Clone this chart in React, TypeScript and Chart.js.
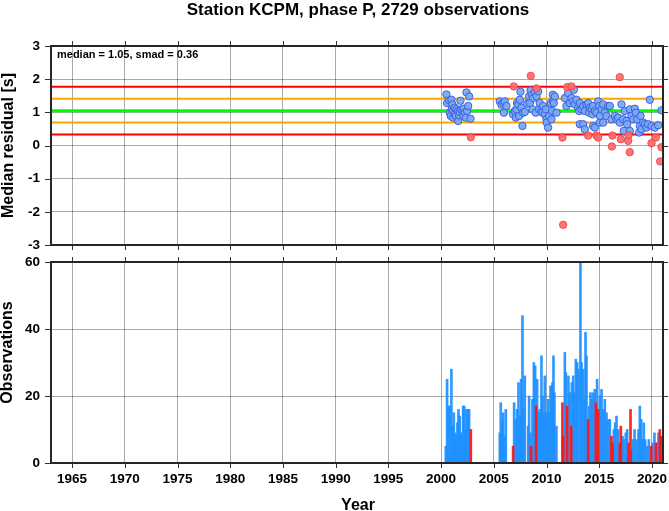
import React, { useEffect, useRef } from "react";
import { Chart, registerables } from "chart.js";

Chart.register(...registerables);

// ---------- text / constants ----------
const titleText = "Station KCPM, phase P, 2729 observations";
const topYTitle = "Median residual [s]";
const bottomYTitle = "Observations";
const xTitle = "Year";
const medianValue = 1.05;
const smadValue = 0.36;

const yearTicks = [1965, 1970, 1975, 1980, 1985, 1990, 1995, 2000, 2005, 2010, 2015, 2020];
const residualTicks = [-3, -2, -1, 0, 1, 2, 3];
const countTicks = [0, 20, 40, 60];
const X_MIN = 1963;
const X_MAX = 2021.05;

// ---------- residual points (top panel) ----------
const blueResYears = [
  2000.51, 2000.57, 2000.76, 2000.83, 2000.92, 2000.98, 2001.02, 2001.08, 2001.14, 2001.14,
  2001.3, 2001.3, 2001.4, 2001.46, 2001.62, 2001.62, 2001.71, 2001.77, 2001.84, 2001.93,
  2002.03, 2002.09, 2002.15, 2002.25, 2002.34, 2002.41, 2002.47, 2002.57, 2002.66, 2002.79,
  2005.57, 2005.73, 2005.89, 2005.95, 2006.04, 2006.2, 2006.83, 2006.99, 2007.09, 2007.15,
  2007.21, 2007.31, 2007.4, 2007.47, 2007.53, 2007.62, 2007.72, 2007.78, 2007.94, 2008.16,
  2008.35, 2008.42, 2008.48, 2008.61, 2008.67, 2008.73, 2008.89, 2008.98, 2009.05, 2009.21,
  2009.3, 2009.36, 2009.52, 2009.62, 2009.68, 2009.84, 2009.93, 2010.0, 2010.02, 2010.15,
  2010.25, 2010.41, 2010.47, 2010.53, 2010.6, 2010.63, 2010.69, 2010.79, 2010.95,
  2011.74, 2011.89, 2012.05, 2012.21, 2012.37, 2012.53, 2012.59, 2012.69, 2012.84, 2013.0,
  2013.1, 2013.16, 2013.16, 2013.32, 2013.48, 2013.48, 2013.63, 2013.63, 2013.79, 2013.95,
  2014.04, 2014.11, 2014.27, 2014.36, 2014.42, 2014.42, 2014.58, 2014.58, 2014.74, 2014.9,
  2014.99, 2015.06, 2015.06, 2015.22, 2015.37, 2015.37, 2015.53, 2015.69, 2015.85, 2016.01,
  2016.16, 2016.48, 2016.64, 2016.8, 2016.95, 2017.11, 2017.27, 2017.33, 2017.43, 2017.59,
  2017.65, 2017.9, 2017.9, 2018.06, 2018.22, 2018.38, 2018.47, 2018.6, 2018.79, 2018.85,
  2018.92, 2019.01, 2019.17, 2019.33, 2019.48, 2019.64, 2019.8, 2019.96, 2020.27, 2020.59,
  2020.91,
];
const blueResValues = [
  1.54, 1.28, 1.36, 0.99, 0.89, 1.38, 1.11, 1.24, 1.04, 0.84,
  0.94, 1.14, 0.89, 1.09, 1.04, 0.74, 0.91, 1.01, 1.35, 1.09,
  1.04, 0.89, 1.11, 0.99, 0.84, 1.6, 1.04, 1.19, 1.48, 0.81,
  1.33, 1.23, 1.28, 0.99, 1.33, 1.19, 0.94, 1.04, 0.84, 1.09,
  1.28, 1.23, 0.89, 1.38, 1.62, 1.14, 0.59, 0.99, 1.01, 1.26,
  1.48, 1.28, 1.66, 1.53, 1.09, 1.43, 1.6, 0.99, 1.48, 1.63,
  1.09, 1.28, 1.04, 0.99, 1.19, 0.94, 1.09, 0.79, 0.69, 0.54,
  0.89, 1.28, 0.79, 1.04, 1.53, 1.33, 1.28, 1.48, 0.99,
  1.43, 1.19, 1.58, 1.28, 1.43, 1.33, 1.68, 1.24, 1.38, 1.14,
  1.04, 1.28, 0.64, 1.09, 1.19, 0.64, 1.04, 0.49, 1.24, 1.28,
  0.99, 1.14, 1.09, 0.94, 1.19, 0.59, 1.04, 0.54, 0.99, 1.33,
  1.19, 0.89, 0.69, 1.09, 1.24, 0.69, 0.99, 0.89, 1.19, 1.19,
  0.79, 0.89, 0.79, 0.84, 0.69, 1.24, 0.79, 0.44, 1.04, 0.74,
  0.64, 1.09, 0.44, 0.89, 0.79, 1.11, 0.99, 0.79, 0.39, 0.59,
  0.89, 0.49, 0.69, 0.64, 0.54, 0.64, 1.38, 0.59, 0.54, 0.61,
  1.06,
];
const redResYears = [
  2002.82, 2006.9, 2008.51, 2009.05, 2011.51, 2011.58, 2011.96, 2012.37, 2013.95, 2014.74,
  2014.9, 2016.2, 2016.26, 2016.95, 2017.05, 2017.75, 2017.78, 2017.9, 2019.96, 2020.37,
  2020.78, 2020.91,
];
const redResValues = [
  0.25, 1.78, 2.1, 1.72, 0.24, -2.39, 1.76, 1.78, 0.3, 0.3,
  0.24, -0.03, 0.3, 2.06, 0.19, 0.14, 0.31, -0.2, 0.07, 0.24,
  -0.48, -0.05,
];

// ---------- observation counts (bottom panel) ----------
const blueBarYears = [
  2000.45, 2000.57, 2000.7, 2000.83, 2000.98, 2001.08, 2001.21, 2001.3, 2001.46, 2001.55,
  2001.65, 2001.77, 2001.87, 2001.96, 2002.09, 2002.19, 2002.28, 2002.41, 2002.53, 2002.66,
  2005.57, 2005.66, 2005.79, 2005.89, 2006.01, 2006.14,
  2006.93, 2007.09, 2007.21, 2007.34, 2007.47, 2007.59, 2007.72, 2007.81, 2007.94, 2008.26,
  2008.35, 2008.48, 2008.67, 2008.8, 2008.92, 2009.11, 2009.24, 2009.36, 2009.52, 2009.62,
  2009.74, 2009.84, 2010.0, 2010.15, 2010.25, 2010.38, 2010.47, 2010.57, 2010.66, 2010.75,
  2010.94,
  2011.74, 2011.83, 2012.08, 2012.21, 2012.4, 2012.53, 2012.65, 2012.78, 2012.91, 2013.03,
  2013.22, 2013.32, 2013.48, 2013.6, 2013.7, 2013.79, 2014.05, 2014.17, 2014.3, 2014.42,
  2014.58, 2014.8, 2015.06, 2015.22, 2015.37, 2015.53, 2015.69, 2015.85, 2016.01, 2016.39,
  2016.51, 2016.64, 2016.8, 2017.21, 2017.33, 2017.52, 2017.65, 2018.06, 2018.22, 2018.35,
  2018.54, 2018.73, 2018.85, 2018.98, 2019.11, 2019.23, 2019.36, 2019.55, 2019.71, 2020.05,
  2020.24, 2020.5, 2020.62,
];
const blueBarCounts = [
  5, 25, 17, 17, 28, 11, 15, 9, 8, 12,
  16, 14, 9, 8, 17, 17, 10, 16, 16, 16,
  9, 18, 12, 15, 8, 16,
  18, 13, 16, 24, 14, 25, 44, 16, 26, 11,
  20, 9, 19, 30, 29, 25, 15, 16, 32, 20,
  15, 26, 15, 19, 15, 23, 23, 24, 32, 21,
  11,
  33, 27, 26, 21, 24, 26, 21, 31, 30, 28,
  60, 30, 28, 19, 39, 32, 17, 21, 19, 21,
  22, 25, 20, 22, 16, 19, 15, 13, 13, 10,
  12, 14, 10, 8, 7, 9, 10, 4, 7, 10,
  7, 10, 17, 13, 7, 12, 7, 5, 7, 6,
  9, 6, 9,
];
const redBarYears = [
  2002.82, 2006.83, 2008.54, 2009.02, 2011.51, 2011.58, 2011.96, 2012.34, 2013.95, 2014.68,
  2014.9, 2016.16, 2016.26, 2016.95, 2017.05, 2017.78, 2017.97, 2019.93, 2020.37, 2020.75,
  2020.84,
];
const redBarCounts = [
  10, 5, 5, 17, 18, 8, 17, 11, 13, 18,
  16, 8, 6, 6, 11, 6, 16, 5, 6, 10,
  8,
];

// ---------- styling ----------
const FONT = "'Liberation Sans', Arial, Helvetica, sans-serif";
const GRID = "rgba(0,0,0,0.33)";
const FRAME = "#262626";

const toPts = (xs: number[], ys: number[]) => xs.map((x, i) => ({ x, y: ys[i] }));

const setTicks = (vals: number[]) => (s: any) => {
  s.ticks = vals.map((v) => ({ value: v }));
};

const fixSize = (dim: "width" | "height", size: number) => (s: any) => {
  s[dim] = size;
  s.paddingLeft = 0;
  s.paddingRight = 0;
  s.paddingTop = 0;
  s.paddingBottom = 0;
};

const framePlugin = {
  id: "frame",
  afterDatasetsDraw(chart: any) {
    const { ctx, chartArea, scales } = chart;
    const { left, right, top, bottom } = chartArea;
    const xs = scales.x;
    const ys = scales.y;
    ctx.save();
    ctx.strokeStyle = "#333";
    ctx.lineWidth = 1;
    ctx.beginPath();
    xs.ticks.forEach((t: any) => {
      const px = Math.round(xs.getPixelForValue(t.value)) + 0.5;
      ctx.moveTo(px, top - 5);
      ctx.lineTo(px, top);
      ctx.moveTo(px, bottom);
      ctx.lineTo(px, bottom + 5);
    });
    ys.ticks.forEach((t: any) => {
      const py = Math.round(ys.getPixelForValue(t.value)) + 0.5;
      ctx.moveTo(left - 6, py);
      ctx.lineTo(left, py);
      ctx.moveTo(right, py);
      ctx.lineTo(right + 5, py);
    });
    ctx.stroke();
    ctx.lineWidth = 2;
    ctx.strokeStyle = FRAME;
    ctx.strokeRect(left, top, right - left, bottom - top);
    ctx.restore();
  },
};

const makeTextPlugin = (id: string, draw: (chart: any) => void) => ({
  id,
  afterDraw(chart: any) {
    const ctx = chart.ctx;
    ctx.save();
    ctx.fillStyle = "#000";
    draw(chart);
    ctx.restore();
  },
});

const topTexts = makeTextPlugin("topTexts", (chart) => {
  const { ctx, chartArea } = chart;
  ctx.font = `bold 17px ${FONT}`;
  ctx.textAlign = "center";
  ctx.textBaseline = "alphabetic";
  ctx.fillText(titleText, (chartArea.left + chartArea.right) / 2 + 1, 15);
  ctx.font = `bold 11px ${FONT}`;
  ctx.textAlign = "left";
  ctx.fillText(
    `median = ${medianValue.toFixed(2)}, smad = ${smadValue.toFixed(2)}`,
    chartArea.left + 6,
    chartArea.top + 11.5
  );
  ctx.translate(9, (chartArea.top + chartArea.bottom) / 2);
  ctx.rotate(-Math.PI / 2);
  ctx.font = `bold 16px ${FONT}`;
  ctx.textAlign = "center";
  ctx.textBaseline = "middle";
  ctx.fillText(topYTitle, 0, 0);
});

const bottomTexts = makeTextPlugin("bottomTexts", (chart) => {
  const { ctx, chartArea } = chart;
  ctx.font = `bold 16px ${FONT}`;
  ctx.textAlign = "center";
  ctx.textBaseline = "alphabetic";
  ctx.fillText(xTitle, (chartArea.left + chartArea.right) / 2 + 1, 260);
  ctx.translate(8, (chartArea.top + chartArea.bottom) / 2 - 10);
  ctx.rotate(-Math.PI / 2);
  ctx.textBaseline = "middle";
  ctx.fillText(bottomYTitle, 0, 0);
});

const tickFont = { family: FONT, size: 13.5, weight: "bold" as const };

function hLine(value: number, color: string, width: number, order: number) {
  return {
    type: "line" as const,
    data: [
      { x: X_MIN, y: value },
      { x: X_MAX, y: value },
    ],
    borderColor: color,
    borderWidth: width,
    pointRadius: 0,
    showLine: true,
    fill: false,
    order,
  };
}

function topConfig(): any {
  return {
    type: "scatter",
    data: {
      datasets: [
        {
          data: toPts(redResYears, redResValues),
          backgroundColor: "rgba(255,105,105,0.92)",
          borderColor: "rgba(235,70,70,0.9)",
          borderWidth: 1,
          pointRadius: 3.7,
          order: 0,
        },
        {
          data: toPts(blueResYears, blueResValues),
          backgroundColor: "rgba(120,170,240,0.95)",
          borderColor: "#3d5ee6",
          borderWidth: 1,
          pointRadius: 3.7,
          order: 1,
        },
        hLine(medianValue, "#00ff00", 3, 2),
        hLine(medianValue + smadValue, "#ffa500", 2, 3),
        hLine(medianValue - smadValue, "#ffa500", 2, 3),
        hLine(medianValue + 2 * smadValue, "#ff0000", 2, 4),
        hLine(medianValue - 2 * smadValue, "#ff0000", 2, 4),
      ],
    },
    options: {
      responsive: false,
      animation: false,
      devicePixelRatio: 1,
      layout: { padding: { left: 0, right: 6, top: 46, bottom: 0 } },
      plugins: { legend: { display: false }, tooltip: { enabled: false }, title: { display: false } },
      scales: {
        x: {
          type: "linear",
          min: X_MIN,
          max: X_MAX,
          afterBuildTicks: setTicks(yearTicks),
          afterFit: fixSize("height", 3),
          ticks: { display: false },
          grid: { color: GRID, lineWidth: 1, drawTicks: false },
          border: { display: false },
        },
        y: {
          type: "linear",
          min: -3,
          max: 3,
          afterBuildTicks: setTicks(residualTicks),
          afterFit: fixSize("width", 51),
          ticks: { font: tickFont, color: "#000", padding: 11, callback: (v: any) => String(v) },
          grid: { color: GRID, lineWidth: 1, drawTicks: false },
          border: { display: false },
        },
      },
    },
    plugins: [framePlugin, topTexts],
  };
}

function bottomConfig(): any {
  return {
    type: "bar",
    data: {
      datasets: [
        {
          data: toPts(redBarYears, redBarCounts),
          backgroundColor: "rgba(255,20,20,0.92)",
          borderWidth: 0,
          barThickness: 2,
          grouped: false,
          order: 0,
        },
        {
          data: toPts(blueBarYears, blueBarCounts),
          backgroundColor: "rgba(30,144,255,0.92)",
          borderWidth: 0,
          barThickness: 2,
          grouped: false,
          order: 1,
        },
      ],
    },
    options: {
      responsive: false,
      animation: false,
      devicePixelRatio: 1,
      layout: { padding: { left: 0, right: 6, top: 12, bottom: 0 } },
      plugins: { legend: { display: false }, tooltip: { enabled: false }, title: { display: false } },
      scales: {
        x: {
          type: "linear",
          min: X_MIN,
          max: X_MAX,
          offset: false,
          afterBuildTicks: setTicks(yearTicks),
          afterFit: fixSize("height", 48),
          ticks: {
            font: tickFont,
            color: "#000",
            padding: 8,
            autoSkip: false,
            maxRotation: 0,
            callback: (v: any) => String(v),
          },
          grid: { color: GRID, lineWidth: 1, drawTicks: false, offset: false },
          border: { display: false },
        },
        y: {
          type: "linear",
          min: 0,
          max: 60,
          afterBuildTicks: setTicks(countTicks),
          afterFit: fixSize("width", 51),
          ticks: { font: tickFont, color: "#000", padding: 11, callback: (v: any) => String(v) },
          grid: { color: GRID, lineWidth: 1, drawTicks: false },
          border: { display: false },
        },
      },
    },
    plugins: [framePlugin, bottomTexts],
  };
}

export default function App() {
  const topRef = useRef<HTMLCanvasElement>(null);
  const botRef = useRef<HTMLCanvasElement>(null);

  useEffect(() => {
    const top = new Chart(topRef.current as HTMLCanvasElement, topConfig());
    const bot = new Chart(botRef.current as HTMLCanvasElement, bottomConfig());
    return () => {
      top.destroy();
      bot.destroy();
    };
  }, []);

  return (
    <div style={{ position: "absolute", left: 0, top: 0, width: 669, height: 511, background: "#fff" }}>
      <canvas
        ref={topRef}
        width={669}
        height={250}
        style={{ position: "absolute", left: 0, top: 0, width: 669, height: 250 }}
      />
      <canvas
        ref={botRef}
        width={669}
        height={261}
        style={{ position: "absolute", left: 0, top: 250, width: 669, height: 261 }}
      />
    </div>
  );
}
